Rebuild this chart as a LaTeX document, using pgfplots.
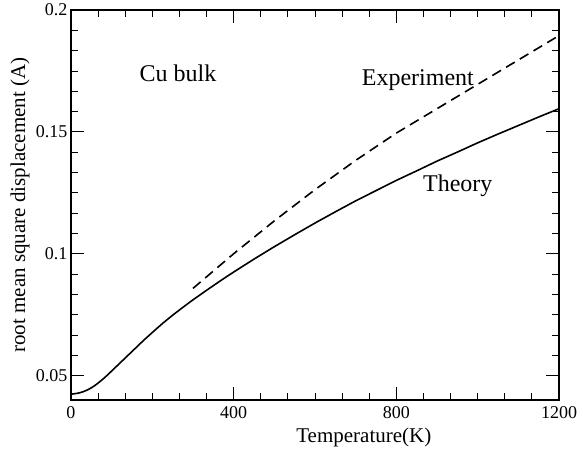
\documentclass[border=0pt]{standalone}
\usepackage{fontspec}
\setmainfont{Liberation Serif}
\usepackage{pgfplots}
\pgfplotsset{compat=1.18}
\begin{document}
\begin{tikzpicture}
\begin{axis}[
  name=ax,
  scale only axis,
  width=488pt, height=390pt,
  xmin=0, xmax=1200, ymin=0.04, ymax=0.2,
  xtick={0,400,800,1200},
  ytick={0.05,0.1,0.15,0.2},
  yticklabels={0.05,0.1,0.15,0.2},
  minor x tick num=5,
  minor y tick num=5,
  tick align=inside,
  major tick length=13pt,
  minor tick length=7pt,
  tick style={black, line width=0.8pt},
  axis line style={line width=1.2pt},
  tick label style={font=\fontsize{18}{20}\selectfont},
  /pgf/number format/assume math mode=true,
  /pgf/number format/1000 sep={},
  xticklabel style={yshift=-3pt},
  xlabel={Temperature(K)},
  ylabel={root mean square displacement (A)},
  xlabel style={font=\fontsize{21}{24}\selectfont, at={(axis description cs:0.6,0)}, anchor=center, yshift=-37pt},
  ylabel style={font=\fontsize{21}{24}\selectfont, at={(axis description cs:-0.1045,0.5)}, anchor=center},
  clip=false,
]
\addplot[black, line width=1.6pt] coordinates {
(0,0.0424) (10,0.0426) (20,0.0429) (30,0.0434) (40,0.0441) (50,0.0450)
(60,0.0461) (70,0.0474) (80,0.0488) (90,0.0503) (100,0.0519)
(120,0.0551) (140,0.0583) (160,0.0615) (180,0.0647) (200,0.0677)
(225,0.0714) (250,0.0748) (275,0.0780) (300,0.0811) (335,0.0852)
(370,0.0892) (400,0.0925) (450,0.0978) (500,0.1029) (550,0.1078)
(600,0.1126) (650,0.1172) (700,0.1217) (750,0.1259) (800,0.1301)
(850,0.1340) (900,0.1380) (950,0.1417) (1000,0.1455) (1050,0.1491)
(1100,0.1526) (1150,0.1561) (1200,0.1595)};
\addplot[black, line width=1.6pt, dash pattern=on 10pt off 6pt] coordinates {
(300,0.0858) (400,0.1000) (500,0.1135) (600,0.1263) (700,0.1383)
(800,0.1495) (900,0.1595) (1000,0.1695) (1100,0.1795) (1200,0.1895)};
\node[font=\fontsize{24}{28}\selectfont] at (axis cs:263,0.174) {Cu bulk};
\node[font=\fontsize{24}{28}\selectfont] at (axis cs:853,0.1713) {Experiment};
\node[font=\fontsize{24}{28}\selectfont] at (axis cs:951,0.1277) {Theory};
\end{axis}
\pgfresetboundingbox
\useasboundingbox ([xshift=-71pt,yshift=-66pt]ax.south west) rectangle ([xshift=18pt,yshift=10pt]ax.north east);
\end{tikzpicture}
\end{document}
